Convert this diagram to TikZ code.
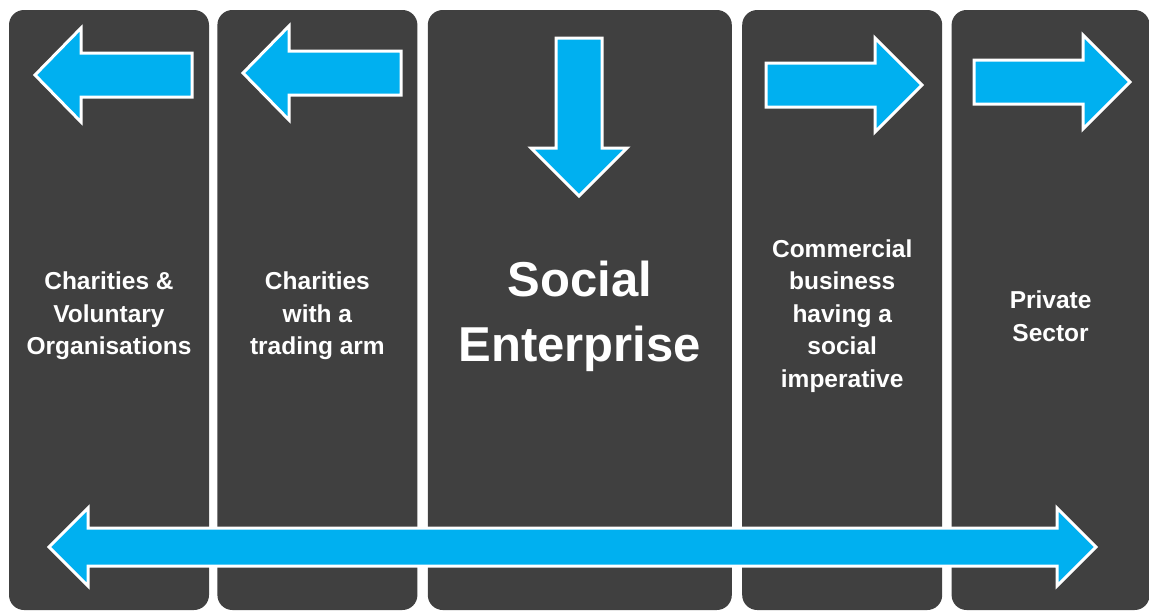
\documentclass[tikz,border=0pt]{standalone}
\usepackage{fontspec}
\setmainfont{Liberation Sans}
\usepackage{xcolor}
\usepackage{tikz}
\usetikzlibrary{positioning}
\definecolor{panelgrey}{HTML}{404040}
\definecolor{arrowblue}{HTML}{00B0F0}
\tikzstyle{column} = [rectangle, rounded corners=15pt, minimum height=600pt, inner sep=0pt, fill=panelgrey]
\tikzstyle{coltext} = [align=center, text=white, font=\bfseries\fontsize{24.5}{32.5}\selectfont, yshift=-6pt]
\tikzstyle{bigarrow} = [fill=arrowblue, draw=white, line width=3pt, line join=miter]

\begin{document}
\begin{tikzpicture}[x=1pt, y=-1pt]
    \useasboundingbox (0,0) rectangle (1149,611);
    \fill[white] (0,0) rectangle (1149,611);

    \node[column, minimum width=200pt] (charities) at (109,310) {};
    \node[column, minimum width=200pt, right=8pt of charities] (trading) {};
    \node[column, minimum width=304pt, right=10pt of trading] (social) {};
    \node[column, minimum width=200pt, right=10pt of social] (commercial) {};
    \node[column, minimum width=198pt, right=9pt of commercial] (private) {};

    \node[coltext] (charitieslabel) at (charities) {Charities \&\\Voluntary\\Organisations};
    \node[coltext] (tradinglabel) at (trading) {Charities\\with a\\trading arm};
    \node[coltext, font=\bfseries\fontsize{49}{65}\selectfont] (sociallabel) at (social) {Social\\Enterprise};
    \node[coltext] (commerciallabel) at (commercial) {Commercial\\business\\having a\\social\\imperative};
    \node[coltext] (privatelabel) at (private) {Private\\Sector};

    % arrows on top of the columns
    \draw[bigarrow] (35,75) -- (81,28) -- (81,53) -- (192,53) -- (192,97) -- (81,97) -- (81,122) -- cycle;
    \draw[bigarrow] (243,73) -- (289,26) -- (289,51) -- (401,51) -- (401,95) -- (289,95) -- (289,120) -- cycle;
    \draw[bigarrow] (556,38) -- (602,38) -- (602,148) -- (627,148) -- (579,196) -- (531,148) -- (556,148) -- cycle;
    \draw[bigarrow] (766,63) -- (875,63) -- (875,38) -- (922,85) -- (875,132) -- (875,107) -- (766,107) -- cycle;
    \draw[bigarrow] (974,60) -- (1083,60) -- (1083,35) -- (1130,82) -- (1083,129) -- (1083,104) -- (974,104) -- cycle;

    % spectrum arrow along the bottom
    \draw[bigarrow] (49,547) -- (88,508) -- (88,528) -- (1057,528) -- (1057,508) -- (1096,547) -- (1057,586) -- (1057,566) -- (88,566) -- (88,586) -- cycle;
\end{tikzpicture}
\end{document}
